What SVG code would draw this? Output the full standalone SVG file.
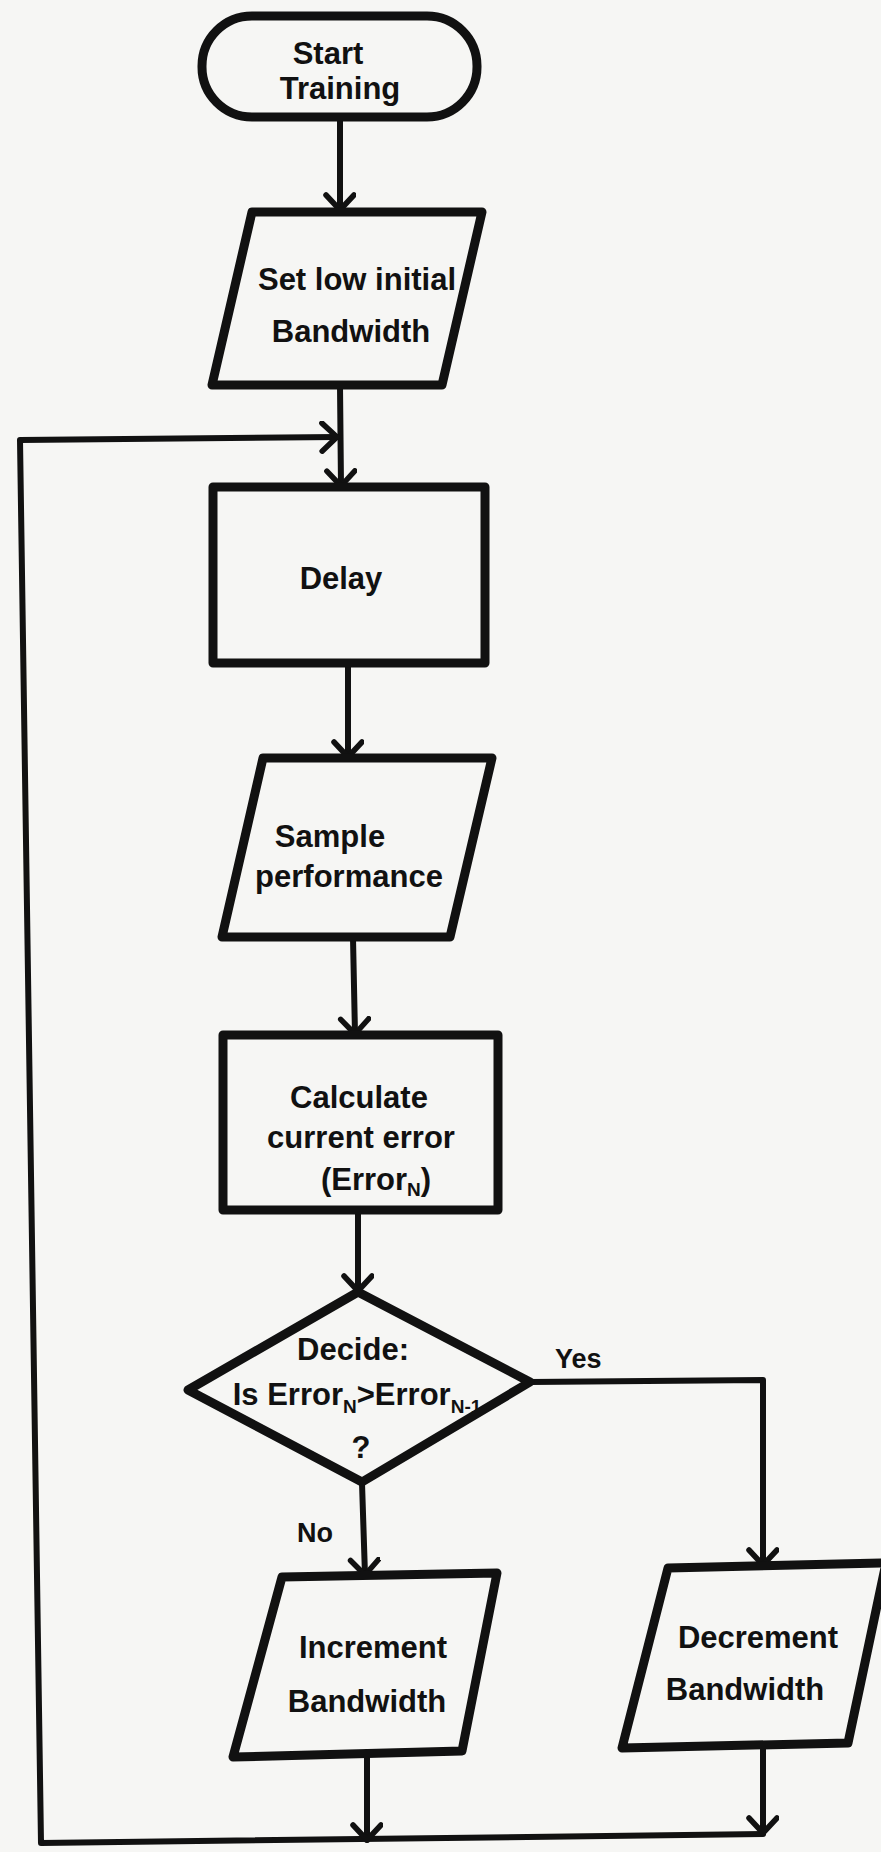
<svg xmlns="http://www.w3.org/2000/svg" width="881" height="1852" viewBox="0 0 881 1852">
  <defs>
    <style>
      .shape { fill: none; stroke: #111; stroke-width: 9; stroke-linejoin: round; stroke-linecap: round; }
      .conn { fill: none; stroke: #111; stroke-width: 6; stroke-linejoin: round; stroke-linecap: round; }
      .lbl { font-family: "Liberation Sans", Arial, sans-serif; font-weight: bold; font-size: 31px; fill: #111; text-anchor: middle; }
      .small { font-family: "Liberation Sans", Arial, sans-serif; font-weight: bold; font-size: 27px; fill: #111; }
      .sub { font-size: 19px; }
    </style>
    <marker id="arrow" markerUnits="userSpaceOnUse" markerWidth="26" markerHeight="36" refX="18" refY="16" orient="auto" viewBox="0 0 26 36">
      <path d="M3,2 L18,16 L3,30" fill="none" stroke="#111" stroke-width="5.5" stroke-linecap="round" stroke-linejoin="round"/>
    </marker>
  </defs>
  <rect x="0" y="0" width="881" height="1852" fill="#f6f6f4"/>

  <g id="connectors">
    <path class="conn" d="M340,118 L340,210" marker-end="url(#arrow)"/>
    <path class="conn" d="M340,386 L341,486" marker-end="url(#arrow)"/>
    <path class="conn" d="M763,1834 L41,1843 L20,440 L337,437" marker-end="url(#arrow)"/>
    <path class="conn" d="M348,664 L348,757" marker-end="url(#arrow)"/>
    <path class="conn" d="M353,938 L355,1034" marker-end="url(#arrow)"/>
    <path class="conn" d="M358,1211 L358,1291" marker-end="url(#arrow)"/>
    <path class="conn" d="M362,1483 L365,1575" marker-end="url(#arrow)"/>
    <path class="conn" d="M530,1382 L763,1380 L763,1565" marker-end="url(#arrow)"/>
    <path class="conn" d="M367,1752 L367,1840" marker-end="url(#arrow)"/>
    <path class="conn" d="M763,1745 L763,1833" marker-end="url(#arrow)"/>
    <text class="small" x="555" y="1368">Yes</text>
    <text class="small" x="297" y="1542">No</text>
  </g>

  <g id="start">
    <rect class="shape" x="202" y="16" width="275" height="101" rx="50" ry="50"/>
    <text class="lbl" x="328" y="64" font-size="29">Start</text>
    <text class="lbl" x="340" y="99" font-size="29">Training</text>
  </g>

  <g id="set-bandwidth">
    <path class="shape" d="M252,212 L482,212 L442,385 L212,385 Z"/>
    <text class="lbl" x="357" y="290">Set low initial</text>
    <text class="lbl" x="351" y="342">Bandwidth</text>
  </g>

  <g id="delay">
    <rect class="shape" x="213" y="487" width="272" height="176"/>
    <text class="lbl" x="341" y="589">Delay</text>
  </g>

  <g id="sample">
    <path class="shape" d="M263,758 L492,758 L450,937 L222,937 Z"/>
    <text class="lbl" x="330" y="847">Sample</text>
    <text class="lbl" x="349" y="887">performance</text>
  </g>

  <g id="calculate">
    <rect class="shape" x="223" y="1035" width="275" height="175"/>
    <text class="lbl" x="359" y="1108">Calculate</text>
    <text class="lbl" x="361" y="1148">current error</text>
    <text class="lbl" x="376" y="1190">(Error<tspan class="sub" dy="6">N</tspan><tspan dy="-6">)</tspan></text>
  </g>

  <g id="decide">
    <path class="shape" d="M358,1292 L530,1382 L362,1482 L188,1390 Z"/>
    <text class="lbl" x="353" y="1360">Decide:</text>
    <text class="lbl" x="357" y="1405" font-size="29">Is Error<tspan class="sub" dy="8">N</tspan><tspan dy="-8">&gt;Error</tspan><tspan class="sub" dy="8">N-1</tspan></text>
    <text class="lbl" x="361" y="1458">?</text>
  </g>

  <g id="increment">
    <path class="shape" d="M282,1577 L497,1573 L462,1751 L233,1757 Z"/>
    <text class="lbl" x="373" y="1658">Increment</text>
    <text class="lbl" x="367" y="1712">Bandwidth</text>
  </g>

  <g id="decrement">
    <path class="shape" d="M668,1568 L886,1563 L848,1743 L622,1748 Z"/>
    <text class="lbl" x="758" y="1648">Decrement</text>
    <text class="lbl" x="745" y="1700">Bandwidth</text>
  </g>
</svg>
